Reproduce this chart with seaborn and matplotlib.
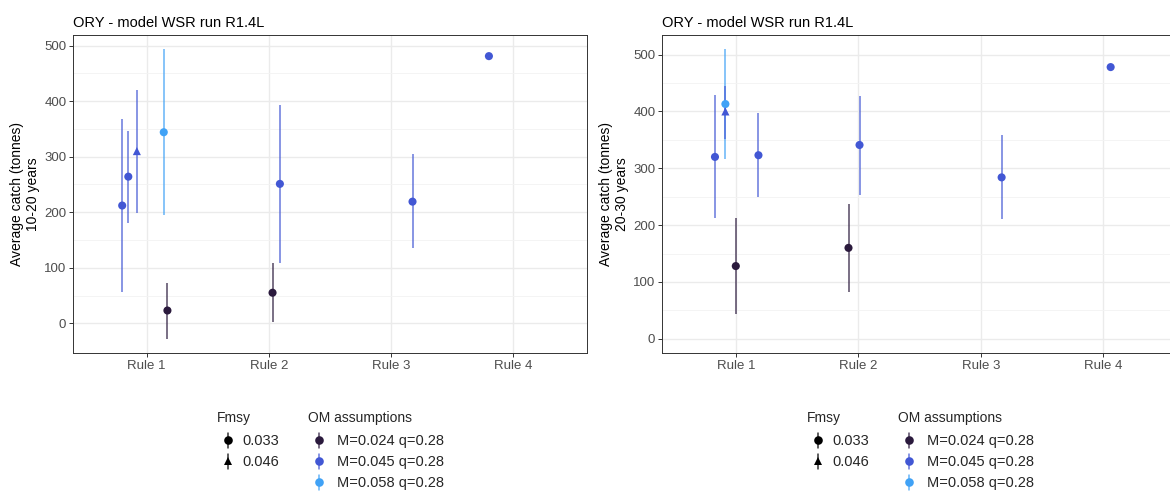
import numpy as np
import pandas as pd
import matplotlib
matplotlib.use("Agg")
import matplotlib.pyplot as plt
import seaborn as sns
from matplotlib.lines import Line2D
from matplotlib.legend_handler import HandlerBase

# ---------------- data ----------------
rules = ["Rule 1", "Rule 2", "Rule 3", "Rule 4"]
om_levels = ["M=0.024 q=0.28", "M=0.045 q=0.28", "M=0.058 q=0.28"]
fmsy_levels = ["0.033", "0.046"]
title = "ORY - model WSR run R1.4L"

# Panel A: 10-20 years
a_rule = ["Rule 1", "Rule 1", "Rule 1", "Rule 1", "Rule 1", "Rule 2", "Rule 2", "Rule 3", "Rule 4"]
a_om = ["M=0.045 q=0.28", "M=0.045 q=0.28", "M=0.045 q=0.28", "M=0.058 q=0.28", "M=0.024 q=0.28",
        "M=0.024 q=0.28", "M=0.045 q=0.28", "M=0.045 q=0.28", "M=0.045 q=0.28"]
a_fmsy = ["0.033", "0.033", "0.046", "0.033", "0.033", "0.033", "0.033", "0.033", "0.033"]
a_jitter = [-0.20, -0.15, -0.08, 0.14, 0.17, 0.03, 0.09, 0.175, -0.20]
a_mean = [212, 264, 310, 344, 23, 55, 251, 219, 481]
a_low = [56, 181, 198, 195, -28, 2, 109, 136, 481]
a_high = [368, 346, 420, 493, 72, 108, 393, 305, 481]

# Panel B: 20-30 years
b_rule = ["Rule 1", "Rule 1", "Rule 1", "Rule 1", "Rule 1", "Rule 2", "Rule 2", "Rule 3", "Rule 4"]
b_om = ["M=0.045 q=0.28", "M=0.058 q=0.28", "M=0.045 q=0.28", "M=0.045 q=0.28", "M=0.024 q=0.28",
        "M=0.024 q=0.28", "M=0.045 q=0.28", "M=0.045 q=0.28", "M=0.045 q=0.28"]
b_fmsy = ["0.033", "0.033", "0.046", "0.033", "0.033", "0.033", "0.033", "0.033", "0.033"]
b_jitter = [-0.17, -0.085, -0.085, 0.185, 0.0, -0.08, 0.01, 0.17, 0.06]
b_mean = [320, 413, 400, 323, 128, 160, 341, 284, 478]
b_low = [212, 317, 351, 250, 43, 83, 253, 210, 478]
b_high = [429, 509, 445, 397, 213, 238, 428, 358, 478]

ylabels = ["Average catch (tonnes)\n10-20 years", "Average catch (tonnes)\n20-30 years"]

# ---------------- style ----------------
palette = {"M=0.024 q=0.28": "#2b1a3d", "M=0.045 q=0.28": "#4257d4", "M=0.058 q=0.28": "#40a2f6"}
markers = {"0.033": "o", "0.046": "^"}

sns.set_theme(style="white")
plt.rcParams["font.family"] = ["Liberation Sans", "DejaVu Sans"]

fig = plt.figure(figsize=(11.70, 4.92), dpi=100)
W, H = 1170, 492


def px_axes(l, t, r, b):
    return fig.add_axes([l / W, 1 - b / H, (r - l) / W, (b - t) / H])


ax_a = px_axes(73.3, 35, 586.7, 353.3)
ax_b = px_axes(662.3, 35, 662.3 + 514.5, 353.3)


def make_df(rule, om, fmsy, jit, mean, low, high):
    df = pd.DataFrame({"rule": rule, "om": om, "fmsy": fmsy, "jit": jit,
                       "mean": mean, "low": low, "high": high})
    df["x"] = df["rule"].map({r: i for i, r in enumerate(rules)}) + df["jit"]
    return df


dfs = [make_df(a_rule, a_om, a_fmsy, a_jitter, a_mean, a_low, a_high),
       make_df(b_rule, b_om, b_fmsy, b_jitter, b_mean, b_low, b_high)]

for ax, df, ylab in zip([ax_a, ax_b], dfs, ylabels):
    # error bars
    for _, r in df.iterrows():
        if r["high"] > r["low"]:
            ax.vlines(r["x"], r["low"], r["high"], color=palette[r["om"]], lw=1.1, alpha=0.8, zorder=2)
    sns.scatterplot(data=df, x="x", y="mean", hue="om", style="fmsy", palette=palette,
                    markers=markers, hue_order=om_levels, style_order=fmsy_levels,
                    s=34, linewidth=0, legend=False, ax=ax, zorder=3)
    # limits (ggplot-like expansion)
    lo = min(df["low"].min(), 0)
    hi = df["high"].max()
    pad = (hi - lo) * 0.05
    ax.set_ylim(lo - pad, hi + pad)
    ax.set_xlim(-0.6, len(rules) - 1 + 0.6)
    ax.set_xticks(range(len(rules)))
    ax.set_xticklabels(rules)
    ax.set_yticks([0, 100, 200, 300, 400, 500])
    ax.set_yticks([50, 150, 250, 350, 450], minor=True)
    ax.set_xlabel("")
    ax.set_ylabel(ylab, fontsize=10, color="black", linespacing=1.2, labelpad=3)
    ax.yaxis.label.set_horizontalalignment("center")
    ax.set_title(title, loc="left", fontsize=10.5, pad=6, color="black")
    ax.grid(which="major", color="#EBEBEB", lw=1.0)
    ax.grid(which="minor", axis="y", color="#F3F3F3", lw=0.6)
    ax.set_axisbelow(True)
    ax.tick_params(axis="both", which="major", length=3, width=0.7, color="#333333",
                   labelsize=9.5, labelcolor="#4D4D4D", pad=2, bottom=True, left=True)
    ax.tick_params(axis="both", which="minor", length=0)
    for sp in ax.spines.values():
        sp.set_color("#333333")
        sp.set_linewidth(0.7)


class PointRange(HandlerBase):
    def create_artists(self, legend, orig_handle, xdescent, ydescent, width, height, fontsize, trans):
        cx = width / 2 - xdescent + 3
        cy = height / 2 - ydescent
        col = orig_handle.get_color()
        ln = Line2D([cx, cx], [cy - height * 0.75, cy + height * 0.75], color=col, lw=1.1, alpha=0.8,
                    transform=trans)
        mk = Line2D([cx], [cy], marker=orig_handle.get_marker(), color=col, markersize=6.2,
                    linestyle="none", markeredgewidth=0, transform=trans)
        return [ln, mk]


fmsy_handles = [Line2D([], [], marker=markers[f], color="black", linestyle="none") for f in fmsy_levels]
om_handles = [Line2D([], [], marker="o", color=palette[o], linestyle="none") for o in om_levels]

for dx in [0, 590]:
    common = dict(frameon=False, borderpad=0, handler_map={Line2D: PointRange()},
                  handlelength=0.9, labelspacing=0.48, fontsize=10.5,
                  title_fontsize=10, loc="upper left", bbox_transform=fig.transFigure,
                  alignment="left")
    leg1 = fig.legend(fmsy_handles, fmsy_levels, title="Fmsy", handletextpad=0.8,
                      bbox_to_anchor=((210 + dx) / W, 1 - 404 / H), **common)
    leg2 = fig.legend(om_handles, om_levels, title="OM assumptions", handletextpad=1.05,
                      bbox_to_anchor=((301 + dx) / W, 1 - 404 / H), **common)
    for lg in (leg1, leg2):
        lg._legend_box.sep = 6.5

fig.savefig("out.png", dpi=100)
